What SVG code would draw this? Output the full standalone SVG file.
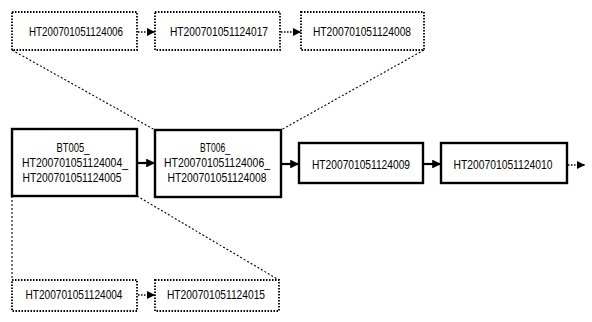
<svg xmlns="http://www.w3.org/2000/svg" width="592" height="322" viewBox="0 0 592 322">
<style>
.solid{fill:#fff;stroke:#000;stroke-width:2.4}
.dot{fill:#fff;stroke:#000;stroke-width:1.8;stroke-dasharray:1.5 1.5}
.t{font-family:"Liberation Sans",Arial,sans-serif;font-size:13px;fill:#000;text-anchor:middle}
.ex{fill:none;stroke:#000;stroke-width:1.1;stroke-dasharray:2 2}
.ca{fill:none;stroke:#000;stroke-width:2.2}
.da{fill:none;stroke:#000;stroke-width:1.6;stroke-dasharray:1.5 1.5}
</style>
<defs>
<marker id="ah" viewBox="0 0 10 10" refX="10" refY="5" markerWidth="4" markerHeight="4" orient="auto" markerUnits="strokeWidth"><path d="M0,0L10,5L0,10z" fill="#000"/></marker>
<marker id="ahd" viewBox="0 0 10 10" refX="10" refY="5" markerWidth="5" markerHeight="5" orient="auto" markerUnits="strokeWidth"><path d="M0,0L10,5L0,10z" fill="#000"/></marker>
</defs>
<g id="connectors">
<line class="ex" x1="12" y1="50" x2="155" y2="130"/>
<line class="ex" x1="424" y1="50" x2="281" y2="130"/>
<line class="ex" x1="137" y1="196" x2="279" y2="280"/>
<line class="ex" x1="12" y1="196" x2="12" y2="280"/>
<line class="da" x1="138" y1="32" x2="155" y2="32" marker-end="url(#ahd)"/>
<line class="da" x1="281" y1="32" x2="301" y2="32" marker-end="url(#ahd)"/>
<line class="da" x1="138" y1="295" x2="155" y2="295" marker-end="url(#ahd)"/>
<line class="da" x1="568" y1="165" x2="585" y2="165" marker-end="url(#ahd)"/>
<line class="ca" x1="138" y1="163" x2="155" y2="163" marker-end="url(#ah)"/>
<line class="ca" x1="282" y1="164" x2="299" y2="164" marker-end="url(#ah)"/>
<line class="ca" x1="424" y1="164" x2="441" y2="164" marker-end="url(#ah)"/>
</g>
<g id="n1"><rect class="dot" x="12" y="12" width="125" height="38"/><text class="t" x="76" y="36" textLength="94" lengthAdjust="spacingAndGlyphs">HT200701051124006</text></g>
<g id="n2"><rect class="dot" x="155" y="12" width="125" height="38"/><text class="t" x="219" y="36" textLength="98" lengthAdjust="spacingAndGlyphs">HT200701051124017</text></g>
<g id="n3"><rect class="dot" x="301" y="12" width="123" height="38"/><text class="t" x="362" y="36" textLength="98" lengthAdjust="spacingAndGlyphs">HT200701051124008</text></g>
<g id="n4"><rect class="solid" x="12" y="129" width="125" height="67"/>
<text class="t" x="73" y="152" textLength="33" lengthAdjust="spacingAndGlyphs">BT005_</text>
<text class="t" x="75" y="167" textLength="106" lengthAdjust="spacingAndGlyphs">HT200701051124004_</text>
<text class="t" x="72" y="182" textLength="99" lengthAdjust="spacingAndGlyphs">HT200701051124005</text></g>
<g id="n5"><rect class="solid" x="155" y="130" width="126" height="67"/>
<text class="t" x="215" y="152" textLength="30" lengthAdjust="spacingAndGlyphs">BT006_</text>
<text class="t" x="217" y="167" textLength="106" lengthAdjust="spacingAndGlyphs">HT200701051124006_</text>
<text class="t" x="217" y="182" textLength="99" lengthAdjust="spacingAndGlyphs">HT200701051124008</text></g>
<g id="n6"><rect class="solid" x="299" y="143" width="124" height="40"/><text class="t" x="361" y="169" textLength="98" lengthAdjust="spacingAndGlyphs">HT200701051124009</text></g>
<g id="n7"><rect class="solid" x="441" y="143" width="126" height="40"/><text class="t" x="503" y="169" textLength="99" lengthAdjust="spacingAndGlyphs">HT200701051124010</text></g>
<g id="n8"><rect class="dot" x="12" y="280" width="125" height="31"/><text class="t" x="74" y="299" textLength="97" lengthAdjust="spacingAndGlyphs">HT200701051124004</text></g>
<g id="n9"><rect class="dot" x="155" y="280" width="124" height="31"/><text class="t" x="216" y="299" textLength="98" lengthAdjust="spacingAndGlyphs">HT200701051124015</text></g>
</svg>
